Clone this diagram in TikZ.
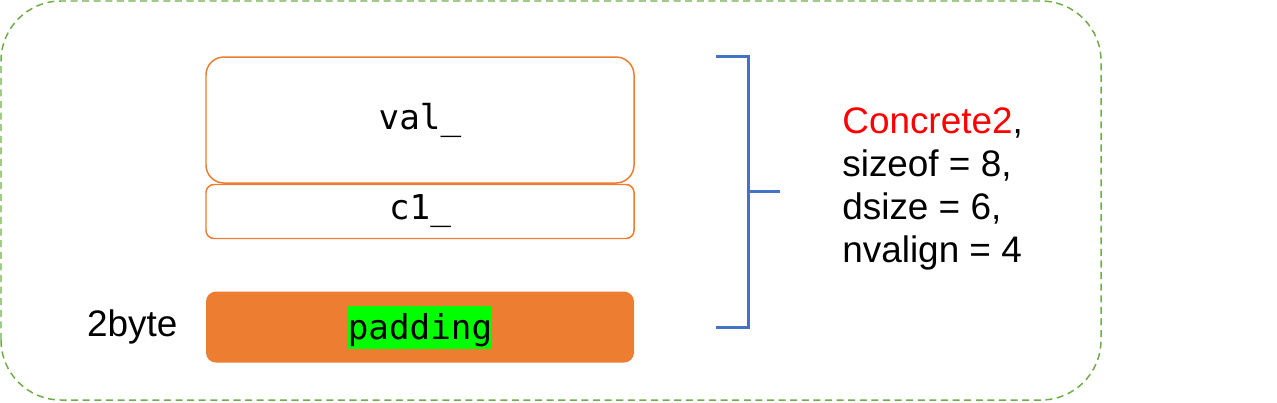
\documentclass[tikz,border=0pt]{standalone}
\usepackage{fontspec}
\setmainfont{Liberation Sans}
\newfontfamily\codefont{DejaVu Sans Mono}
\usetikzlibrary{positioning, calc}
\definecolor{myorange}{RGB}{237, 125, 49}
\definecolor{mygreen}{RGB}{112, 173, 71}
\definecolor{myblue}{RGB}{68, 114, 196}
\definecolor{myhigh}{RGB}{0, 255, 0}
\definecolor{myred}{RGB}{255, 0, 0}

\begin{document}
\begin{tikzpicture}[
    field/.style={rectangle, draw=myorange, line width=0.85pt, minimum width=8.56cm, text centered, font=\codefont\fontsize{19.5}{23}\selectfont},
    pad/.style={rectangle, rounded corners=0.2cm, fill=myorange, minimum width=8.56cm, minimum height=1.42cm, text centered},
    info/.style={font=\fontsize{21}{24.5}\selectfont, align=left, inner sep=0pt},
    bracket/.style={draw=myblue, line width=1.6pt}
]
\useasboundingbox (0,0) rectangle (25.54,8.04);

% Outer frame
\draw[mygreen, line width=0.85pt, dash pattern=on 4pt off 2.6pt, rounded corners=1.2cm] (0.02,0.04) rectangle (22.02,8.02);

% Fields
\node[field, rounded corners=0.36cm, minimum height=2.52cm] (val) at (8.40,5.64) {val\_};
\node[field, rounded corners=0.16cm, minimum height=1.08cm, below=0pt of val] (c1) {c1\_};

% Padding
\node[pad, below=1.04cm of c1] (padding) {};
\node[fill=myhigh, inner sep=0pt, text height=0.66cm, text depth=0.2cm, font=\codefont\fontsize{19.5}{23}\selectfont] (padtext) at ($(padding.center)+(0,-0.01)$) {padding};
\node[info, left=0.56cm of padding] (size) {2byte};

% Bracket
\coordinate (brtop) at ($(val.north east)+(1.62,0)$);
\coordinate (brbot) at (brtop |- padding.center);
\coordinate (brmid) at ($(brtop)!0.5!(brbot)+(0.66,0)$);
\draw[bracket] (brtop) -- ++(0.66,0) |- (brbot);
\draw[bracket] (brmid) -- ++(0.62,0);

% Summary
\node[info, anchor=west] (summary) at (16.84,4.26) {\textcolor{myred}{Concrete2},\\sizeof = 8,\\dsize = 6,\\nvalign = 4};

\end{tikzpicture}
\end{document}
